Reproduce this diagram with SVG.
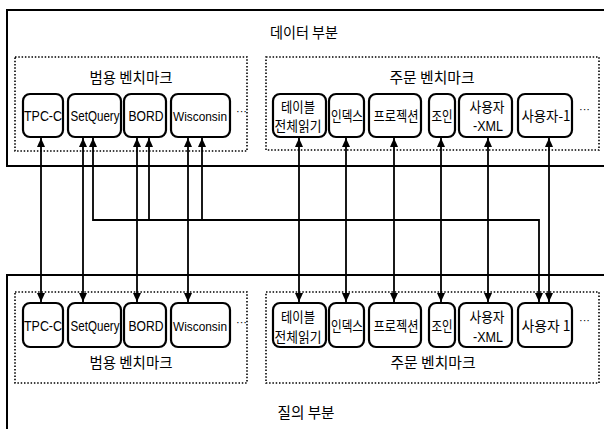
<svg xmlns="http://www.w3.org/2000/svg" width="604" height="429" viewBox="0 0 604 429">
<style>
.outer{fill:none;stroke:#000;stroke-width:2}
.group{fill:none;stroke:#000;stroke-width:1.6;stroke-dasharray:1.5 1.8}
.node{fill:#fff;stroke:#000;stroke-width:2.2}
.t{font-family:"Liberation Sans","Noto Sans CJK KR",sans-serif;font-size:14.5px;fill:#000;text-anchor:middle}
.w{font-size:13.5px}
.k{font-family:"Noto Sans CJK KR","Liberation Sans",sans-serif;font-size:14px;fill:#000;text-anchor:middle}
.title{font-family:"Noto Sans CJK KR","Liberation Sans",sans-serif;font-size:15px;fill:#000;text-anchor:middle}
.conn{fill:none;stroke:#000;stroke-width:1.8}
.dots{font-family:"Liberation Sans",sans-serif;font-size:11px;fill:#000}
</style>
<defs>
<marker id="ah" markerUnits="userSpaceOnUse" markerWidth="10" markerHeight="10" refX="9" refY="4" orient="auto-start-reverse">
<path d="M0,0 L9,4 L0,8 Z" fill="#000"/>
</marker>
</defs>
<rect width="604" height="429" fill="#fff"/>

<g id="data-part">
<path class="outer" d="M612,10 H7 V166 H612"/>
<text class="title" x="304" y="38" textLength="68" lengthAdjust="spacingAndGlyphs">데이터 부분</text>
</g>
<g id="query-part">
<path class="outer" d="M612,275 H7 V440"/>
<text class="title" x="306" y="418" textLength="57" lengthAdjust="spacingAndGlyphs">질의 부분</text>
</g>

<g id="top-general">
<rect class="group" x="15" y="57" width="232" height="94"/>
<text class="title" x="131" y="83" textLength="83" lengthAdjust="spacingAndGlyphs">범용 벤치마크</text>
<text class="dots" x="236" y="115">···</text>
</g>
<g id="top-custom">
<rect class="group" x="266" y="57" width="333" height="93"/>
<text class="title" x="432" y="83" textLength="85" lengthAdjust="spacingAndGlyphs">주문 벤치마크</text>
<text class="dots" x="579" y="113">···</text>
</g>
<g id="bottom-general">
<rect class="group" x="15" y="292" width="232" height="91"/>
<text class="title" x="131" y="368" textLength="83" lengthAdjust="spacingAndGlyphs">범용 벤치마크</text>
<text class="dots" x="236" y="326">···</text>
</g>
<g id="bottom-custom">
<rect class="group" x="266" y="292" width="333" height="91"/>
<text class="title" x="433" y="368" textLength="85" lengthAdjust="spacingAndGlyphs">주문 벤치마크</text>
<text class="dots" x="579" y="324">···</text>
</g>

<!-- top nodes -->
<g id="t-tpcc"><rect class="node" x="23" y="94" width="40" height="43" rx="7"/><text class="t" x="43" y="121" textLength="38" lengthAdjust="spacingAndGlyphs">TPC-C</text></g>
<g id="t-setquery"><rect class="node" x="68" y="94" width="53" height="43" rx="7"/><text class="t" x="95" y="121" textLength="49" lengthAdjust="spacingAndGlyphs">SetQuery</text></g>
<g id="t-bord"><rect class="node" x="124" y="94" width="42" height="43" rx="7"/><text class="t" x="146" y="121" textLength="35" lengthAdjust="spacingAndGlyphs">BORD</text></g>
<g id="t-wisconsin"><rect class="node" x="171" y="94" width="59" height="43" rx="7"/><text class="t w" x="200" y="121" textLength="54" lengthAdjust="spacingAndGlyphs">Wisconsin</text></g>
<g id="t-tablescan"><rect class="node" x="273" y="94" width="53" height="43" rx="7"/><text class="k" x="298" y="112" textLength="34" lengthAdjust="spacingAndGlyphs">테이블</text><text class="k" x="298" y="131" textLength="47" lengthAdjust="spacingAndGlyphs">전체읽기</text></g>
<g id="t-index"><rect class="node" x="329" y="94" width="35" height="43" rx="7"/><text class="k" x="347" y="121" textLength="32" lengthAdjust="spacingAndGlyphs">인덱스</text></g>
<g id="t-projection"><rect class="node" x="369" y="94" width="52" height="43" rx="7"/><text class="k" x="396" y="121" textLength="45" lengthAdjust="spacingAndGlyphs">프로젝션</text></g>
<g id="t-join"><rect class="node" x="429" y="94" width="26" height="43" rx="7"/><text class="k" x="442" y="121" textLength="21" lengthAdjust="spacingAndGlyphs">조인</text></g>
<g id="t-userxml"><rect class="node" x="459" y="94" width="53" height="43" rx="7"/><text class="k" x="487" y="112" textLength="35" lengthAdjust="spacingAndGlyphs">사용자</text><text class="t" x="488" y="131" textLength="30" lengthAdjust="spacingAndGlyphs">-XML</text></g>
<g id="t-user1"><rect class="node" x="518" y="94" width="54" height="43" rx="7"/><text class="k" x="546" y="121" textLength="49" lengthAdjust="spacingAndGlyphs">사용자-1</text></g>

<!-- bottom nodes -->
<g id="b-tpcc"><rect class="node" x="23" y="303" width="40" height="44" rx="7"/><text class="t" x="43" y="331" textLength="38" lengthAdjust="spacingAndGlyphs">TPC-C</text></g>
<g id="b-setquery"><rect class="node" x="68" y="303" width="53" height="44" rx="7"/><text class="t" x="95" y="331" textLength="49" lengthAdjust="spacingAndGlyphs">SetQuery</text></g>
<g id="b-bord"><rect class="node" x="124" y="303" width="42" height="44" rx="7"/><text class="t" x="146" y="331" textLength="35" lengthAdjust="spacingAndGlyphs">BORD</text></g>
<g id="b-wisconsin"><rect class="node" x="171" y="303" width="59" height="44" rx="7"/><text class="t w" x="200" y="331" textLength="54" lengthAdjust="spacingAndGlyphs">Wisconsin</text></g>
<g id="b-tablescan"><rect class="node" x="273" y="303" width="53" height="44" rx="7"/><text class="k" x="298" y="322" textLength="34" lengthAdjust="spacingAndGlyphs">테이블</text><text class="k" x="298" y="342" textLength="47" lengthAdjust="spacingAndGlyphs">전체읽기</text></g>
<g id="b-index"><rect class="node" x="329" y="303" width="35" height="44" rx="7"/><text class="k" x="347" y="331" textLength="32" lengthAdjust="spacingAndGlyphs">인덱스</text></g>
<g id="b-projection"><rect class="node" x="369" y="303" width="52" height="44" rx="7"/><text class="k" x="396" y="331" textLength="45" lengthAdjust="spacingAndGlyphs">프로젝션</text></g>
<g id="b-join"><rect class="node" x="429" y="303" width="26" height="44" rx="7"/><text class="k" x="442" y="331" textLength="21" lengthAdjust="spacingAndGlyphs">조인</text></g>
<g id="b-userxml"><rect class="node" x="459" y="303" width="53" height="44" rx="7"/><text class="k" x="487" y="322" textLength="35" lengthAdjust="spacingAndGlyphs">사용자</text><text class="t" x="488" y="342" textLength="30" lengthAdjust="spacingAndGlyphs">-XML</text></g>
<g id="b-user1"><rect class="node" x="518" y="303" width="54" height="44" rx="7"/><text class="k" x="546" y="331" textLength="49" lengthAdjust="spacingAndGlyphs">사용자 1</text></g>

<g id="connectors">
<path class="conn" d="M41,138 V302" marker-start="url(#ah)" marker-end="url(#ah)"/>
<path class="conn" d="M83,138 V302" marker-start="url(#ah)" marker-end="url(#ah)"/>
<path class="conn" d="M137,138 V302" marker-start="url(#ah)" marker-end="url(#ah)"/>
<path class="conn" d="M188,138 V302" marker-start="url(#ah)" marker-end="url(#ah)"/>
<path class="conn" d="M299,138 V302" marker-start="url(#ah)" marker-end="url(#ah)"/>
<path class="conn" d="M346,138 V302" marker-start="url(#ah)" marker-end="url(#ah)"/>
<path class="conn" d="M394,138 V302" marker-start="url(#ah)" marker-end="url(#ah)"/>
<path class="conn" d="M441,138 V302" marker-start="url(#ah)" marker-end="url(#ah)"/>
<path class="conn" d="M488,138 V302" marker-start="url(#ah)" marker-end="url(#ah)"/>
<path class="conn" d="M549,138 V302" marker-start="url(#ah)" marker-end="url(#ah)"/>
<path class="conn" d="M93,138 V220 H539 V302" marker-start="url(#ah)" marker-end="url(#ah)"/>
<path class="conn" d="M149,138 V220" marker-start="url(#ah)"/>
<path class="conn" d="M202,138 V220" marker-start="url(#ah)"/>
</g>
</svg>
